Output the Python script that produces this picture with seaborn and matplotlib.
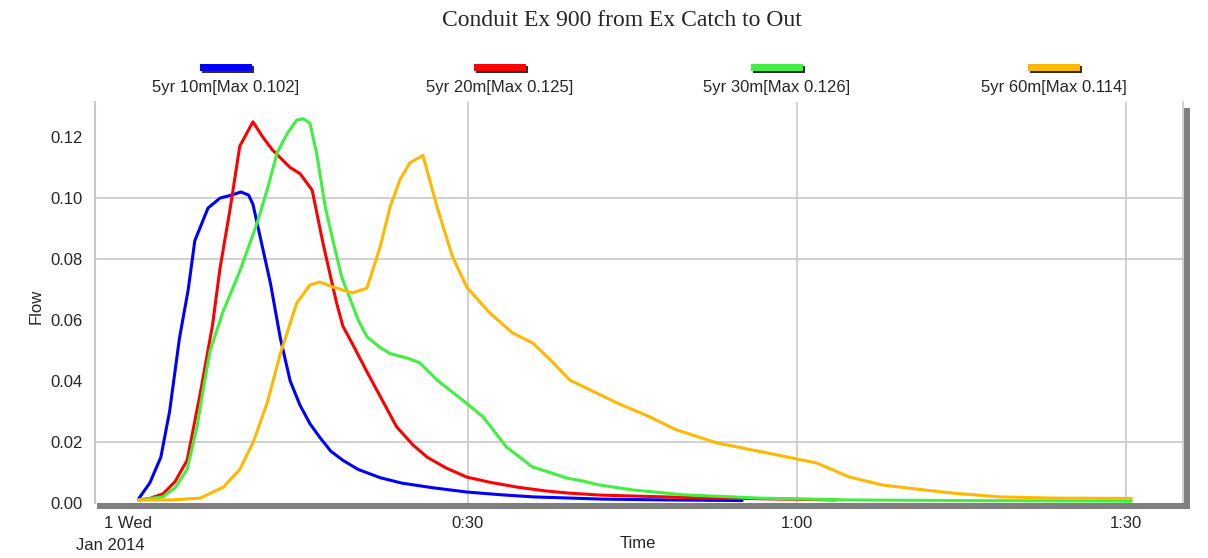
import matplotlib
matplotlib.use("Agg")
import matplotlib.pyplot as plt
from matplotlib.patches import Rectangle
import matplotlib.transforms as mtransforms
import seaborn as sns
import pandas as pd
import numpy as np

# Data (time in minutes from 0:00, flow)
series_names = ['5yr 10m', '5yr 20m', '5yr 30m', '5yr 60m']
series_colors = ['#0000ff', '#ff0000', '#40f040', '#ffb800']

t_10m = [0, 1, 2, 2.8, 3.7, 4.5, 5.1, 6.3, 7.4, 8.5, 9.3, 10.0, 10.4, 11.2, 12, 12.9,
         13.8, 14.7, 15.6, 16.5, 17.5, 18.6, 20, 22, 24, 26.8, 29.9, 33, 36, 42, 48, 55]
q_10m = [0.0015, 0.0066, 0.015, 0.030, 0.054, 0.070, 0.086, 0.0967, 0.100, 0.101, 0.102,
         0.101, 0.098, 0.085, 0.072, 0.054, 0.040, 0.032, 0.026, 0.0215, 0.017, 0.014,
         0.011, 0.0083, 0.0065, 0.005, 0.0036, 0.0027, 0.002, 0.0013, 0.001, 0.0008]

t_20m = [0, 1, 2.2, 3.3, 4.4, 5.6, 6.7, 7.4, 8.3, 9.2, 10.4, 11.3, 12.2, 13.8, 14.7, 15.8,
         16.8, 18, 18.6, 19.5, 20.8, 22, 23.5, 25, 26.3, 28, 29.9, 32, 34.5, 37, 39, 42,
         46, 50, 55, 60, 63.5]
q_20m = [0.001, 0.0015, 0.003, 0.007, 0.014, 0.036, 0.058, 0.077, 0.096, 0.117, 0.125,
         0.120, 0.1157, 0.110, 0.108, 0.1026, 0.085, 0.066, 0.058, 0.052, 0.043, 0.035,
         0.025, 0.019, 0.015, 0.0115, 0.0085, 0.0068, 0.0052, 0.004, 0.0033, 0.0026,
         0.0022, 0.0018, 0.0015, 0.0012, 0.001]

t_30m = [0, 2.2, 3.3, 4.4, 5.3, 6.0, 6.5, 7.7, 9.2, 10.8, 11.8, 12.6, 13.5, 14.4, 15.0,
         15.6, 16.2, 17.0, 17.7, 18.5, 19.2, 20.0, 20.8, 22, 22.9, 24.5, 25.6, 27.2, 29.5,
         31.4, 33.5, 35.9, 37.5, 39, 40.5, 42, 45, 49.6, 56.6, 65, 75, 90.5]
q_30m = [0.001, 0.002, 0.005, 0.011, 0.025, 0.040, 0.050, 0.063, 0.076, 0.092, 0.104,
         0.1148, 0.121, 0.1256, 0.126, 0.1245, 0.1148, 0.097, 0.086, 0.074, 0.0675, 0.060,
         0.0545, 0.051, 0.049, 0.0475, 0.046, 0.0403, 0.0338, 0.0282, 0.0184, 0.0118,
         0.010, 0.0082, 0.0072, 0.0059, 0.0043, 0.0027, 0.0016, 0.001, 0.0008, 0.0006]

t_60m = [0, 3, 5.6, 7.7, 9.2, 10.4, 11.7, 12.9, 14.4, 15.6, 16.5, 17.7, 19.5, 20.8, 22,
         22.9, 23.8, 24.7, 25.9, 27.2, 28.6, 29.9, 32, 34.1, 35.9, 37.5, 39.3, 43.6, 46.6,
         49, 52.7, 57.3, 61.8, 64.8, 67.8, 69.4, 74, 78.5, 83.5, 90.5]
q_60m = [0.001, 0.001, 0.0016, 0.0052, 0.011, 0.0197, 0.0328, 0.049, 0.0656, 0.0715,
         0.0725, 0.0708, 0.0689, 0.0705, 0.084, 0.097, 0.106, 0.1115, 0.114, 0.097, 0.0807,
         0.0708, 0.0623, 0.0557, 0.0525, 0.047, 0.0403, 0.0328, 0.0282, 0.024, 0.0197,
         0.0164, 0.0131, 0.0085, 0.0059, 0.0052, 0.0033, 0.002, 0.0016, 0.0015]

x_ticks = [0, 30, 60, 90]
x_tick_labels = ['1 Wed', '0:30', '1:00', '1:30']
y_ticks = [0.00, 0.02, 0.04, 0.06, 0.08, 0.10, 0.12]
y_grid = [0.02, 0.08, 0.10]

times = [t_10m, t_20m, t_30m, t_60m]
flows = [q_10m, q_20m, q_30m, q_60m]
df = pd.concat([pd.DataFrame({'Time': t, 'Flow': q, 'Series': n})
                for t, q, n in zip(times, flows, series_names)], ignore_index=True)

sns.set_style('white')
plt.rcParams['font.family'] = ['Liberation Sans', 'DejaVu Sans']

W, H = 1208, 558
fig = plt.figure(figsize=(W / 100, H / 100), dpi=100)
ax_l, ax_r, ax_t, ax_b = 95, 1183, 102, 503
ax = fig.add_axes([ax_l / W, 1 - ax_b / H, (ax_r - ax_l) / W, (ax_b - ax_t) / H])

grid_c = '#c8c8c8'
for g in y_grid:
    ax.axhline(g, color=grid_c, lw=1.2, zorder=0)
for g in x_ticks[1:]:
    ax.axvline(g, color=grid_c, lw=1.2, zorder=0)

sns.lineplot(data=df, x='Time', y='Flow', hue='Series', palette=series_colors,
             hue_order=series_names, linewidth=2.2, legend=False, ax=ax, sort=False)

ax.set_xlim(-4.0, 95.2)
ax.set_ylim(0, 0.1315)
ax.set_xticks(x_ticks)
ax.set_xticklabels(x_tick_labels, fontsize=12)
ax.set_yticks(y_ticks)
ax.set_yticklabels([f'{v:.2f}' for v in y_ticks], fontsize=12)
ax.set_yticks([0.005, 0.035, 0.05, 0.055, 0.065, 0.07, 0.085, 0.095, 0.11, 0.13], minor=True)
ax.tick_params(axis='y', which='major', direction='out', length=6, width=1.2, color=grid_c, pad=3)
ax.tick_params(axis='y', which='minor', direction='in', length=6, width=1.2, color=grid_c)
ax.tick_params(axis='x', which='major', direction='out', length=9, width=1.2, color=grid_c, pad=0)
ax.set_xlabel('')
ax.set_ylabel('Flow', fontsize=12)
ax.yaxis.set_label_coords(-0.047, 0.49)

# first date label sits a little left of its tick
first = ax.get_xticklabels()[0]
first.set_transform(first.get_transform() + mtransforms.ScaledTranslation(-0.11, 0, fig.dpi_scale_trans))

for s in ['top', 'bottom']:
    ax.spines[s].set_visible(False)
ax.spines['left'].set_color(grid_c)
ax.spines['left'].set_linewidth(1.5)
ax.spines['right'].set_color(grid_c)
ax.spines['right'].set_linewidth(1.2)

# drop shadow along the bottom and right edges
aw, ah = ax_r - ax_l, ax_b - ax_t
shadow = '#808080'
ax.add_patch(Rectangle((2 / aw, -6 / ah), (1190 - 97) / aw, 6 / ah, transform=ax.transAxes,
                       color=shadow, clip_on=False, zorder=5, lw=0))
ax.add_patch(Rectangle(((1184 - ax_l) / aw, -6 / ah), 6 / aw, (ax_b - 108 + 6) / ah,
                       transform=ax.transAxes, color=shadow, clip_on=False, zorder=5, lw=0))

# axis texts
fig.text(110 / W, 1 - 545 / H, 'Jan 2014', ha='center', va='center', fontsize=12)
fig.text(638 / W, 1 - 543 / H, 'Time', ha='center', va='center', fontsize=12)
fig.text(622 / W, 1 - 21 / H, 'Conduit Ex 900 from Ex Catch to Out', ha='center',
         va='center', fontsize=17, family=['Liberation Serif', 'DejaVu Serif'])

# legend: colour bar above each label
leg_x = [226, 500, 777, 1054]
for cx, name, col, q in zip(leg_x, series_names, series_colors, flows):
    bw, bh = 52, 7
    fig.add_artist(Rectangle(((cx - bw / 2 + 2) / W, 1 - (64 + bh + 2) / H), bw / W, bh / H,
                             transform=fig.transFigure, color='#303030', lw=0))
    fig.add_artist(Rectangle(((cx - bw / 2) / W, 1 - (64 + bh) / H), bw / W, bh / H,
                             transform=fig.transFigure, color=col, lw=0))
    fig.text(cx / W, 1 - 88 / H, f'{name}[Max {max(q):.3f}]', ha='center', va='center',
             fontsize=12)

fig.savefig('out.png', dpi=100, facecolor='white')
